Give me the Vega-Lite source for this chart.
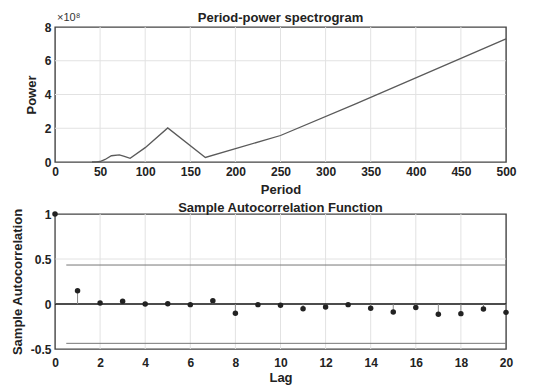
{
  "$schema": "https://vega.github.io/schema/vega-lite/v6.json",
  "background": "white",
  "padding": {"left": 10, "top": 11, "right": 5, "bottom": 0},
  "spacing": 4,
  "datasets": {
    "spec": [
      {"period": 41, "power": 0.0},
      {"period": 45.5, "power": 0.01},
      {"period": 50, "power": 0.03},
      {"period": 55.6, "power": 0.15},
      {"period": 62.5, "power": 0.37},
      {"period": 71.4, "power": 0.42},
      {"period": 76.9, "power": 0.34},
      {"period": 83.3, "power": 0.22},
      {"period": 100, "power": 0.85},
      {"period": 125, "power": 2.02},
      {"period": 166.7, "power": 0.27},
      {"period": 250, "power": 1.57},
      {"period": 333.3, "power": 3.45},
      {"period": 500, "power": 7.3}
    ],
    "gridTopX": [{"v": 50}, {"v": 100}, {"v": 150}, {"v": 200}, {"v": 250}, {"v": 300}, {"v": 350}, {"v": 400}, {"v": 450}],
    "gridTopY": [{"v": 2}, {"v": 4}, {"v": 6}],
    "gridBotX": [{"v": 2}, {"v": 4}, {"v": 6}, {"v": 8}, {"v": 10}, {"v": 12}, {"v": 14}, {"v": 16}, {"v": 18}],
    "gridBotY": [{"v": 0.5}],
    "acf": [
      {"lag": 0, "acf": 1.0, "base": 0},
      {"lag": 1, "acf": 0.148, "base": 0},
      {"lag": 2, "acf": 0.011, "base": 0},
      {"lag": 3, "acf": 0.03, "base": 0},
      {"lag": 4, "acf": 0.0, "base": 0},
      {"lag": 5, "acf": 0.004, "base": 0},
      {"lag": 6, "acf": -0.007, "base": 0},
      {"lag": 7, "acf": 0.037, "base": 0},
      {"lag": 8, "acf": -0.104, "base": 0},
      {"lag": 9, "acf": -0.007, "base": 0},
      {"lag": 10, "acf": -0.015, "base": 0},
      {"lag": 11, "acf": -0.052, "base": 0},
      {"lag": 12, "acf": -0.033, "base": 0},
      {"lag": 13, "acf": -0.007, "base": 0},
      {"lag": 14, "acf": -0.048, "base": 0},
      {"lag": 15, "acf": -0.089, "base": 0},
      {"lag": 16, "acf": -0.04, "base": 0},
      {"lag": 17, "acf": -0.115, "base": 0},
      {"lag": 18, "acf": -0.107, "base": 0},
      {"lag": 19, "acf": -0.056, "base": 0},
      {"lag": 20, "acf": -0.093, "base": 0}
    ],
    "bounds": [
      {"x": 0.5, "x2": 20, "y": 0.433},
      {"x": 0.5, "x2": 20, "y": -0.437}
    ],
    "zero": [{"x": 0, "x2": 20, "y": 0}]
  },
  "config": {
    "font": "Liberation Sans",
    "view": {"stroke": "#444", "strokeWidth": 1.4},
    "axis": {
      "labelFont": "Liberation Sans",
      "labelFontSize": 12,
      "labelFontWeight": "bold",
      "labelColor": "#222",
      "titleFont": "Liberation Sans",
      "titleFontSize": 13,
      "titleFontWeight": "bold",
      "titleColor": "#222",
      "domain": false,
      "grid": false,
      "ticks": false,
      "labelOverlap": false,
      "labelBound": false,
      "labelFlush": false,
      "labelPadding": 4,
      "labelExpr": "'' + datum.value"
    },
    "title": {"font": "Liberation Sans", "fontSize": 13, "fontWeight": "bold", "color": "#222"}
  },
  "vconcat": [
    {
      "width": 451,
      "height": 135,
      "title": {"text": "Period-power spectrogram", "offset": -13},
      "layer": [
        {
          "data": {"name": "gridTopX"},
          "mark": {"type": "rule", "color": "#e2e2e2", "strokeWidth": 1},
          "encoding": {
            "x": {
              "field": "v", "type": "quantitative",
              "scale": {"domain": [0, 500], "nice": false},
              "axis": {"values": [0, 50, 100, 150, 200, 250, 300, 350, 400, 450, 500], "tickCount": 11, "title": "Period", "titlePadding": 6, "labelOverlap": false}
            }
          }
        },
        {
          "data": {"name": "gridTopY"},
          "mark": {"type": "rule", "color": "#e2e2e2", "strokeWidth": 1},
          "encoding": {
            "y": {
              "field": "v", "type": "quantitative",
              "scale": {"domain": [0, 8], "nice": false},
              "axis": {"values": [0, 2, 4, 6, 8], "tickCount": 5, "title": "Power", "titlePadding": 6, "labelOverlap": false}
            }
          }
        },
        {
          "data": {"name": "spec"},
          "mark": {"type": "line", "color": "#5a5a5a", "strokeWidth": 1.3},
          "encoding": {
            "x": {"field": "period", "type": "quantitative"},
            "y": {"field": "power", "type": "quantitative"}
          }
        },
        {
          "data": {"values": [{"px": 0, "pv": 8, "t": "×10⁸"}]},
          "mark": {"type": "text", "align": "left", "baseline": "bottom", "dx": 2, "dy": -4, "fontSize": 11, "color": "#333", "font": "Liberation Sans"},
          "encoding": {
            "x": {"field": "px", "type": "quantitative"},
            "y": {"field": "pv", "type": "quantitative"},
            "text": {"field": "t"}
          }
        }
      ]
    },
    {
      "width": 451,
      "height": 135,
      "title": {"text": "Sample Autocorrelation Function", "offset": -7},
      "layer": [
        {
          "data": {"name": "gridBotX"},
          "mark": {"type": "rule", "color": "#e2e2e2", "strokeWidth": 1},
          "encoding": {
            "x": {
              "field": "v", "type": "quantitative",
              "scale": {"domain": [0, 20], "nice": false},
              "axis": {"values": [0, 2, 4, 6, 8, 10, 12, 14, 16, 18, 20], "tickCount": 11, "title": "Lag", "titlePadding": 3, "labelPadding": 8, "labelOverlap": false}
            }
          }
        },
        {
          "data": {"name": "gridBotY"},
          "mark": {"type": "rule", "color": "#e2e2e2", "strokeWidth": 1},
          "encoding": {
            "y": {
              "field": "v", "type": "quantitative",
              "scale": {"domain": [-0.5, 1], "nice": false},
              "axis": {"values": [-0.5, 0, 0.5, 1], "tickCount": 4, "title": "Sample Autocorrelation", "titlePadding": 6, "labelOverlap": false}
            }
          }
        },
        {
          "data": {"name": "bounds"},
          "mark": {"type": "rule", "color": "#777", "strokeWidth": 1},
          "encoding": {
            "x": {"field": "x", "type": "quantitative"},
            "x2": {"field": "x2"},
            "y": {"field": "y", "type": "quantitative"}
          }
        },
        {
          "data": {"name": "zero"},
          "mark": {"type": "rule", "color": "#111", "strokeWidth": 1.5},
          "encoding": {
            "x": {"field": "x", "type": "quantitative"},
            "x2": {"field": "x2"},
            "y": {"field": "y", "type": "quantitative"}
          }
        },
        {
          "data": {"name": "acf"},
          "mark": {"type": "rule", "color": "#888", "strokeWidth": 1},
          "encoding": {
            "x": {"field": "lag", "type": "quantitative"},
            "y": {"field": "base", "type": "quantitative"},
            "y2": {"field": "acf"}
          }
        },
        {
          "data": {"name": "acf"},
          "mark": {"type": "circle", "color": "#222", "opacity": 1, "size": 30},
          "encoding": {
            "x": {"field": "lag", "type": "quantitative"},
            "y": {"field": "acf", "type": "quantitative"}
          }
        }
      ]
    }
  ]
}
